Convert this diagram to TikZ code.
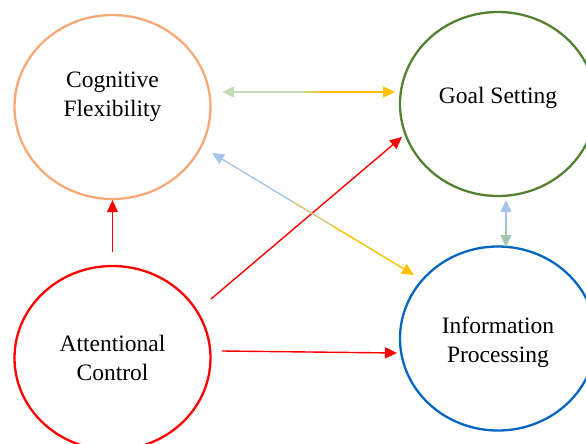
\documentclass[tikz,border=0pt]{standalone}
\usepackage{fontspec}
\setmainfont{Liberation Serif}
\usetikzlibrary{shapes.geometric,arrows.meta,calc}
\definecolor{flexorange}{HTML}{F7AA78}
\definecolor{goalgreen}{HTML}{548235}
\definecolor{infoblue}{HTML}{0566C1}
\definecolor{attnred}{HTML}{FF0000}
\definecolor{paleblue}{HTML}{A7C6E8}
\definecolor{palegreen}{HTML}{C5DCB5}
\definecolor{sagegreen}{HTML}{9FC6B0}
\definecolor{goldyellow}{HTML}{FFC000}
\tikzset{
  bubble/.style={ellipse, draw=#1, line width=2.3pt, minimum width=196pt, minimum height=184pt, inner sep=0pt},
  bubbletext/.style={font=\fontsize{23.5}{29}\selectfont, align=center, inner sep=0pt},
  link/.style={line width=1.4pt}
}
\begin{document}
\begin{tikzpicture}[x=1pt,y=-1pt,>={Triangle[length=12pt,width=11pt]}]
\useasboundingbox (0,0) rectangle (586,444);
\clip (0,0) rectangle (586,444);
% circles
\node[bubble=flexorange, label={[bubbletext,yshift=10pt]center:Cognitive\\Flexibility}] (cf) at (112.5,107) {};
\node[bubble=goalgreen, label={[bubbletext,yshift=6pt]center:Goal Setting}] (gs) at (498,104) {};
\node[bubble=infoblue, label={[bubbletext,yshift=-4pt]center:Information\\Processing}] (ip) at (498,338.5) {};
\node[bubble=attnred, label={[bubbletext]center:Attentional\\Control}] (ac) at (112.5,358) {};
% arrow ends
\coordinate (cfR) at (222,92);
\coordinate (gsL) at (395,92);
\coordinate (cfSE) at (212,153);
\coordinate (ipNW) at (414,275);
\coordinate (acNE) at (211,299);
\coordinate (gsSW) at (402,137);
\coordinate (acR) at (222,351);
\coordinate (ipW) at (397,353);
\coordinate (gsS) at (506,200);
\coordinate (ipN) at (506,247);
% red arrows out of attentional control
\draw[link, attnred, ->, shorten <=13pt] (ac.north) -- (cf.south);
\draw[link, attnred, ->] (acNE) -- (gsSW);
\draw[link, attnred, ->] (acR) -- (ipW);
% flexibility <-> goal setting
\draw[link, palegreen, <-] (cfR) -- ($(cfR)!0.48!(gsL)$);
\draw[link, palegreen!50!goldyellow] ($(cfR)!0.48!(gsL)$) -- ($(cfR)!0.56!(gsL)$);
\draw[link, goldyellow, ->] ($(cfR)!0.56!(gsL)$) -- (gsL);
% flexibility <-> information processing
\draw[link, paleblue, <-] (cfSE) -- ($(cfSE)!0.4!(ipNW)$);
\draw[link, paleblue!50!goldyellow] ($(cfSE)!0.4!(ipNW)$) -- ($(cfSE)!0.6!(ipNW)$);
\draw[link, goldyellow, ->] ($(cfSE)!0.6!(ipNW)$) -- (ipNW);
% goal setting <-> information processing
\draw[link, paleblue, <-] (gsS) -- ($(gsS)!0.5!(ipN)$);
\draw[link, sagegreen, ->] ($(gsS)!0.5!(ipN)$) -- (ipN);
\end{tikzpicture}
\end{document}
